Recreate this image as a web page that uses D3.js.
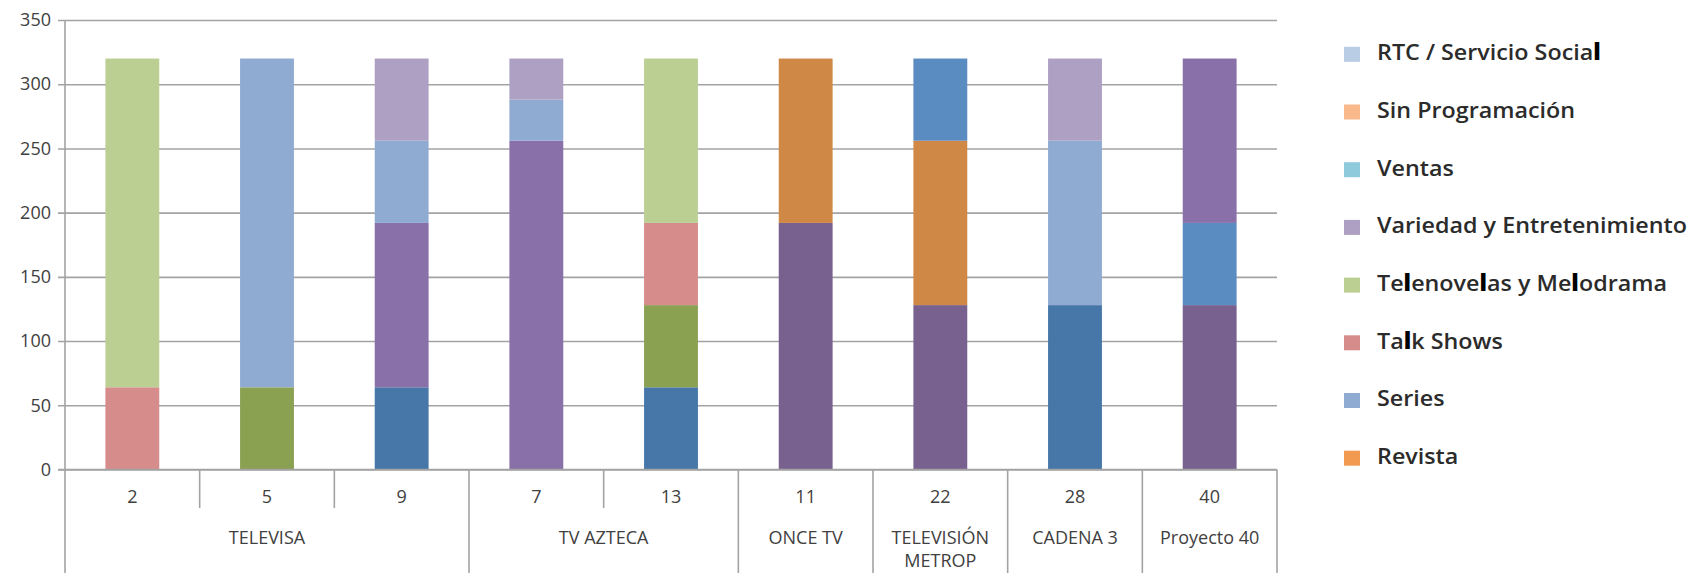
<!DOCTYPE html>
<html>
<head>
<meta charset="utf-8">
<script src="https://cdn.jsdelivr.net/npm/d3@7/dist/d3.min.js"></script>
<style>
  html, body { margin: 0; padding: 0; background: #ffffff; }
  svg { display: block; }
  text { font-family: "Open Sans", "Noto Sans", sans-serif; }
</style>
</head>
<body>
<svg id="chart" width="1694" height="573"></svg>
<script>
// ---- data ----
const categories = ["2", "5", "9", "7", "13", "11", "22", "28", "40"];
const groupNames = ["TELEVISA", "TV AZTECA", "ONCE TV", "TELEVISIÓN\nMETROP", "CADENA 3", "Proyecto 40"];
const groupSizes = [3, 2, 1, 1, 1, 1];
const yTicks = [0, 50, 100, 150, 200, 250, 300, 350];

// series in stacking order (bottom first); the first six are not shown in the visible part of the legend
const seriesNames = [
  "Otro género 1", "Otro género 2", "Otro género 3", "Otro género 4", "Otro género 5", "Otro género 6",
  "Revista", "Series", "Talk Shows", "Telenovelas y Melodrama", "Variedad y Entretenimiento",
  "Ventas", "Sin Programación", "RTC / Servicio Social"
];
const otro1 = [0, 0, 64, 0, 64, 0, 0, 128, 0];
const otro2 = [0, 64, 0, 0, 64, 0, 0, 0, 0];
const otro3 = [0, 0, 0, 0, 0, 192, 128, 0, 128];
const otro4 = [0, 0, 0, 0, 0, 128, 128, 0, 0];
const otro5 = [0, 0, 0, 0, 0, 0, 64, 0, 64];
const otro6 = [0, 0, 128, 256, 0, 0, 0, 0, 128];
const revista = [0, 0, 0, 0, 0, 0, 0, 0, 0];
const series = [0, 256, 64, 32, 0, 0, 0, 128, 0];
const talkShows = [64, 0, 0, 0, 64, 0, 0, 0, 0];
const telenovelas = [256, 0, 0, 0, 128, 0, 0, 0, 0];
const variedad = [0, 0, 64, 32, 0, 0, 0, 64, 0];
const ventas = [0, 0, 0, 0, 0, 0, 0, 0, 0];
const sinProgramacion = [0, 0, 0, 0, 0, 0, 0, 0, 0];
const rtc = [0, 0, 0, 0, 0, 0, 0, 0, 0];
const seriesValues = [otro1, otro2, otro3, otro4, otro5, otro6, revista, series, talkShows,
  telenovelas, variedad, ventas, sinProgramacion, rtc];
const legendNames = ["RTC / Servicio Social", "Sin Programación", "Ventas", "Variedad y Entretenimiento",
  "Telenovelas y Melodrama", "Talk Shows", "Series", "Revista"];

// ---- styles ----
const colors = {
  "Otro género 1": "#4677a8",
  "Otro género 2": "#8aa152",
  "Otro género 3": "#78608f",
  "Otro género 4": "#cf8845",
  "Otro género 5": "#5a8bc1",
  "Otro género 6": "#8a70a8",
  "Revista": "#f29b50",
  "Series": "#8fabd2",
  "Talk Shows": "#d68c8a",
  "Telenovelas y Melodrama": "#bbcf93",
  "Variedad y Entretenimiento": "#ada0c2",
  "Ventas": "#8ecadb",
  "Sin Programación": "#f9b98a",
  "RTC / Servicio Social": "#b9cde5"
};

const svg = d3.select("#chart");
const plotLeft = 65, plotRight = 1277, plotTop = 20, plotBottom = 469.5, axisBottom = 573;

const table = categories.map((c, i) => {
  const row = { cat: c };
  seriesNames.forEach((s, k) => row[s] = seriesValues[k][i]);
  return row;
});

const x = d3.scaleBand().domain(categories).range([plotLeft, plotRight]).paddingInner(0.6).paddingOuter(0.3);
const y = d3.scaleLinear().domain([0, 350]).range([plotBottom, plotTop]);

// gridlines
const gridColor = "#a3a3a3";
svg.append("g")
  .attr("transform", `translate(${plotLeft},0)`)
  .call(d3.axisLeft(y).tickValues(yTicks).tickSize(-(plotRight - plotLeft)).tickPadding(14).tickFormat(d3.format("d")))
  .call(g => g.select(".domain").remove())
  .call(g => g.selectAll(".tick line").attr("stroke", gridColor).attr("stroke-width", 1.6)
    .attr("x1", -7))
  .call(g => g.selectAll(".tick text").attr("fill", "#404040").attr("font-size", 18)
    .attr("font-family", "'Open Sans', sans-serif"));

// bars
const stack = d3.stack().keys(seriesNames);
const stacked = stack(table);
svg.append("g").selectAll("g")
  .data(stacked)
  .join("g")
  .attr("fill", d => colors[d.key])
  .selectAll("rect")
  .data(d => d.filter(p => p[1] - p[0] > 0))
  .join("rect")
  .attr("x", d => x(d.data.cat))
  .attr("width", x.bandwidth())
  .attr("y", d => y(d[1]))
  .attr("height", d => y(d[0]) - y(d[1]));

// axes lines
const axisG = svg.append("g").attr("stroke", gridColor).attr("stroke-width", 1.6);
axisG.append("line").attr("x1", plotLeft).attr("x2", plotLeft).attr("y1", plotTop).attr("y2", axisBottom);
axisG.append("line").attr("x1", plotLeft - 7).attr("x2", plotRight).attr("y1", plotBottom).attr("y2", plotBottom);

// category separators
const step = x.step();
const boundaries = [];
let idx = 0;
const groupStarts = [];
groupSizes.forEach(n => { groupStarts.push(idx); idx += n; });
for (let i = 1; i <= categories.length; i++) {
  const isGroupEdge = groupStarts.includes(i) || i === categories.length;
  boundaries.push({ xPos: plotLeft + i * step, long: isGroupEdge });
}
axisG.selectAll(".sep")
  .data(boundaries)
  .join("line")
  .attr("x1", d => d.xPos).attr("x2", d => d.xPos)
  .attr("y1", plotBottom).attr("y2", d => d.long ? axisBottom : 508);

// category labels
svg.append("g").selectAll("text")
  .data(categories)
  .join("text")
  .attr("x", d => x(d) + x.bandwidth() / 2)
  .attr("y", 503)
  .attr("text-anchor", "middle")
  .attr("font-size", 18)
  .attr("fill", "#404040")
  .text(d => d);

// group labels
const groupG = svg.append("g");
groupNames.forEach((name, gi) => {
  const start = groupStarts[gi], n = groupSizes[gi];
  const cx = plotLeft + (start + n / 2) * step;
  const lines = name.split("\n");
  const t = groupG.append("text")
    .attr("x", cx).attr("y", 544)
    .attr("text-anchor", "middle")
    .attr("font-size", 18)
    .attr("fill", "#404040");
  lines.forEach((ln, li) => {
    t.append("tspan").attr("x", cx).attr("dy", li === 0 ? 0 : 23).text(ln);
  });
});

// legend
const legend = svg.append("g");
legendNames.forEach((name, i) => {
  const cy = 54.3 + i * 57.7;
  legend.append("rect")
    .attr("x", 1344).attr("y", cy - 7.5)
    .attr("width", 16).attr("height", 15)
    .attr("fill", colors[name]);
  const t = legend.append("text")
    .attr("transform", `translate(1377,${cy + 5.8}) scale(1.06,1)`)
    .attr("font-size", 22)
    .attr("font-weight", 600)
    .attr("fill", "#2b2b2b");
  name.split(/(l)/).forEach(part => {
    if (part === "") return;
    const ts = t.append("tspan").text(part);
    if (part === "l") ts.attr("fill", "#000").attr("font-weight", 800);
  });
});
</script>
</body>
</html>
